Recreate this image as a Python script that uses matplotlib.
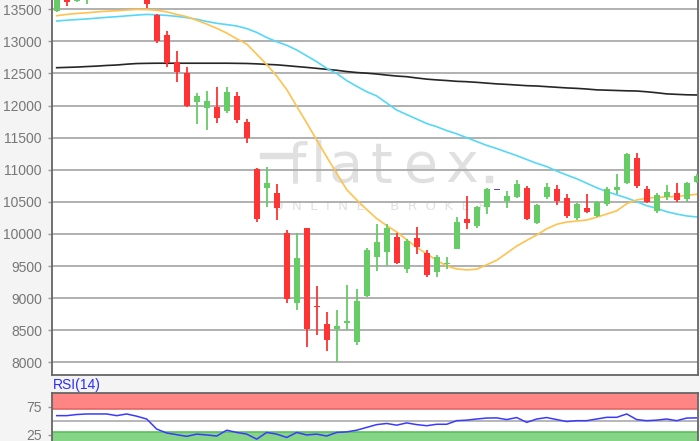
import matplotlib
matplotlib.use('Agg')
import matplotlib.pyplot as plt
from matplotlib.patches import Rectangle
import numpy as np

# ---------------- data ----------------
opens = [13474, 13680, 13628, 13690, 13740, 13780, 13820, 13790, 13840, 13810,
         13411, 13100, 12674, 12503, 12060, 11957, 11973, 11920, 12154, 11749,
         11007, 10711, 10633, 10010, 8928, 10088, 8885, 8597, 8519, 8607,
         8321, 9033, 9636, 9714, 9947, 9449, 9932, 9708, 9412, 9545,
         9760, 10233, 10124, 10424, 10695, 10518, 10571, 10720, 10175, 10580,
         10695, 10555, 10244, 10399, 10279, 10466, 10684, 10798, 11178, 10695,
         10362, 10580, 10642, 10544, 10814]
highs = [13720, 13710, 13700, 13760, 13800, 13850, 13880, 13860, 13900, 13830,
         13420, 13162, 12855, 12596, 12191, 12232, 12285, 12294, 12211, 11791,
         11023, 11048, 10778, 10060, 10010, 10097, 9189, 8779, 8815, 9204,
         9141, 9780, 10155, 10155, 10010, 9920, 10113, 9750, 9672, 9645,
         10268, 10596, 10430, 10720, 10695, 10669, 10840, 10740, 10460, 10789,
         10762, 10618, 10480, 10618, 10520, 10736, 10934, 11260, 11266, 10740,
         10640, 10762, 10789, 10810, 10930]
lows = [13463, 13555, 13620, 13583, 13700, 13730, 13760, 13740, 13780, 13516,
        12970, 12606, 12372, 11973, 11713, 11620, 11733, 11880, 11733, 11412,
        10191, 10424, 10217, 8919, 8815, 8243, 8425, 8180, 8009, 8500,
        8270, 9010, 9427, 9505, 9531, 9387, 9687, 9324, 9334, 9449,
        9760, 10077, 10097, 10306, 10695, 10399, 10555, 10217, 10150, 10544,
        10451, 10244, 10220, 10330, 10260, 10440, 10622, 10780, 10720, 10477,
        10321, 10530, 10500, 10500, 10800]
closes = [13700, 13618, 13670, 13730, 13780, 13820, 13790, 13840, 13810, 13583,
          13011, 12668, 12528, 11993, 12149, 12076, 11802, 12216, 11775, 11499,
          10228, 10798, 10399, 8986, 9620, 8514, 8870, 8347, 8570, 8643,
          8955, 9750, 9870, 10088, 9552, 9895, 9801, 9360, 9636, 9560,
          10191, 10166, 10415, 10695, 10695, 10591, 10778, 10233, 10451, 10736,
          10518, 10279, 10462, 10337, 10502, 10695, 10736, 11245, 10747, 10502,
          10607, 10658, 10530, 10789, 10907]

ma_short = [13400, 13420, 13435, 13445, 13460, 13470, 13478, 13488, 13498, 13495,
            13485, 13460, 13420, 13385, 13330, 13270, 13204, 13130, 13040, 12960,
            12800, 12640, 12460, 12250, 11990, 11730, 11464, 11200, 10945, 10690,
            10530, 10380, 10240, 10130, 10030, 9910, 9790, 9690, 9590, 9500,
            9455, 9440, 9450, 9520, 9590, 9700, 9810, 9900, 9983, 10080,
            10150, 10185, 10200, 10217, 10260, 10310, 10360, 10470, 10530, 10555,
            10570, 10578, 10585, 10600, 10618]
ma_mid = [13318, 13330, 13340, 13350, 13362, 13375, 13385, 13398, 13410, 13420,
          13415, 13405, 13390, 13370, 13345, 13310, 13282, 13262, 13240, 13200,
          13140, 13060, 12995, 12940, 12866, 12775, 12684, 12580, 12500, 12390,
          12300, 12216, 12150, 12040, 11930, 11860, 11790, 11720, 11671, 11610,
          11560, 11500, 11440, 11380, 11330, 11275, 11220, 11160, 11100, 11050,
          10980, 10918, 10860, 10790, 10720, 10660, 10610, 10560, 10502, 10440,
          10400, 10346, 10310, 10280, 10265]
ma_long = [12590, 12595, 12600, 12608, 12615, 12625, 12632, 12645, 12655, 12658,
           12660, 12660, 12660, 12660, 12660, 12660, 12660, 12660, 12658, 12656,
           12650, 12642, 12635, 12622, 12608, 12595, 12580, 12565, 12550, 12530,
           12515, 12505, 12492, 12475, 12460, 12450, 12430, 12412, 12400, 12390,
           12378, 12372, 12362, 12350, 12338, 12330, 12320, 12310, 12305, 12295,
           12285, 12275, 12268, 12258, 12245, 12240, 12235, 12230, 12227, 12215,
           12200, 12182, 12175, 12168, 12165]
rsi = [59, 59, 61, 62, 62, 62, 59, 62, 58, 53,
       35, 28, 25, 22, 26, 24.5, 22.6, 33, 29, 26,
       17, 29, 26, 20, 29, 24.5, 26, 22.6, 29, 30,
       33, 38, 43, 45, 42, 46, 43, 41, 43.6, 43.6,
       50, 51, 53, 54.7, 55, 52, 55.6, 47, 53, 55.6,
       52, 48.5, 50, 50, 53, 56, 56, 62, 52, 50,
       51, 53, 50, 54.7, 55]
price_ticks = [8000, 8500, 9000, 9500, 10000, 10500, 11000, 11500, 12000, 12500, 13000, 13500]
rsi_ticks = [25, 75]
rsi_label = 'RSI(14)'

# ---------------- layout ----------------
W, H = 700, 441
fig = plt.figure(figsize=(7, 4.41), dpi=100, facecolor='#f4f4f4')

def box(l, t, r, b):
    return [l / W, 1 - b / H, (r - l) / W, (b - t) / H]

ax = fig.add_axes(box(51.7, 0, 698, 375))
rax = fig.add_axes(box(51.7, 392.7, 698, 441))

FONT = 'Liberation Sans'
TICKC = '#777777'
SPINEC = '#666666'
RED = '#ff3333'
GREEN = '#66cc66'
FLAT = '#5b3fd6'

n = len(opens)
x = np.arange(n)

# ---------------- price panel ----------------
ax.set_facecolor('white')
ax.set_xlim(-0.5, 64.13)
ax.set_ylim(7802, 13645)
ax.set_yticks(price_ticks)
ax.set_yticklabels([str(v) for v in price_ticks], fontsize=10, color=TICKC, family=FONT)
ax.set_xticks([])
ax.tick_params(axis='y', length=3, width=1, color='#999999', pad=4)
ax.set_axisbelow(True)
ax.yaxis.grid(True, color='#aaaaaa', lw=1.3)
for s in ['left', 'bottom', 'right']:
    ax.spines[s].set_color(SPINEC)
    ax.spines[s].set_linewidth(1.3)
ax.spines['top'].set_visible(False)

# watermark
wm = '#e0e0e0'
letters = [('f', 296), ('l', 319), ('a', 346), ('t', 381), ('e', 421), ('x', 462)]
for ch, cx in letters:
    ax.text(cx / W, 1 - 182 / H, ch, transform=fig.transFigure, ha='center', va='baseline',
            fontsize=40, color=wm, family='DejaVu Sans', zorder=0.2)
ax.add_patch(Rectangle((260 / W, 1 - 158 / H), 36 / W, 5 / H, transform=fig.transFigure,
                       color=wm, zorder=0.2))
ax.add_patch(Rectangle((486 / W, 1 - 182 / H), 6 / W, 6 / H, transform=fig.transFigure,
                       color=wm, zorder=0.2))
ax.text(380 / W, 1 - 210 / H, 'O  N  L  I  N  E      B  R  O  K  E  R', transform=fig.transFigure,
        ha='center', va='baseline', fontsize=9.5, color=wm, family='DejaVu Sans', zorder=0.2)

# moving averages
ax.plot(x, ma_long, color='#262626', lw=1.2, zorder=2)
ax.plot(x, ma_mid, color='#55d8f8', lw=1.2, zorder=2)
ax.plot(x, ma_short, color='#ffc24f', lw=1.2, zorder=2)

# candles
o = np.array(opens, float)
c = np.array(closes, float)
colors = [GREEN if cc > oo else (RED if cc < oo else FLAT) for oo, cc in zip(o, c)]
ax.vlines(x, lows, highs, colors=colors, lw=1.3, zorder=3)
bottoms = np.minimum(o, c)
heights = np.maximum(np.abs(c - o), 18)
ax.bar(x, heights, bottom=bottoms - np.where(np.abs(c - o) < 18, 9, 0), width=0.62,
       color=colors, zorder=4, linewidth=0)

# ---------------- RSI panel ----------------
rax.set_facecolor('white')
rax.set_xlim(-0.5, 64.13)
rax.set_ylim(13.7, 100)
rax.axhspan(70, 100, color='#ff8484', lw=0, zorder=0.5)
rax.axhspan(0, 30, color='#86d586', lw=0, zorder=0.5)
rax.axhline(70, color='#e06868', lw=1.2, zorder=0.6)
rax.axhline(30, color='#5cbf5c', lw=1.2, zorder=0.6)
rax.axhline(50, color='#aaaaaa', lw=1.2, zorder=0.6)
rax.plot(x, rsi, color='#3a3aff', lw=1.1, zorder=2)
rax.set_yticks(rsi_ticks)
rax.set_yticklabels([str(v) for v in rsi_ticks], fontsize=10, color=TICKC, family=FONT)
rax.set_xticks([])
rax.tick_params(axis='y', length=3, width=1, color='#999999', pad=4)
for s in ['left', 'top', 'right']:
    rax.spines[s].set_color(SPINEC)
    rax.spines[s].set_linewidth(1.3)
rax.spines['bottom'].set_visible(False)

fig.text(53 / W, 1 - 389.5 / H, rsi_label, color='#2b2bff', fontsize=10, family=FONT, va='baseline')

fig.savefig('out.png', dpi=100, facecolor=fig.get_facecolor())
